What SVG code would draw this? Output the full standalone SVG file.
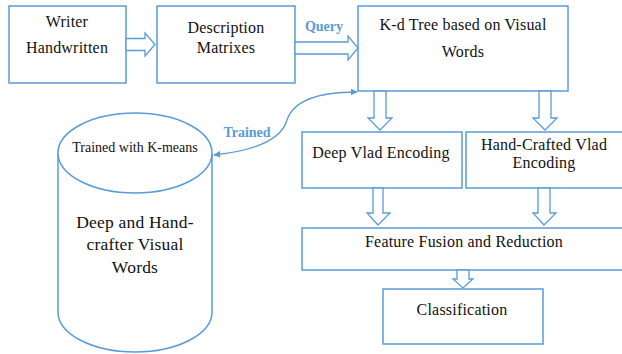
<svg xmlns="http://www.w3.org/2000/svg" width="622" height="354" viewBox="0 0 622 354">
<defs>
<style>
.box{fill:#fff;stroke:#5b9bd5;stroke-width:1.5}
.arr{fill:#fff;stroke:#5b9bd5;stroke-width:1.3;stroke-linejoin:miter}
text{font-family:'Liberation Serif','DejaVu Serif',serif}
.t{font-size:16px;letter-spacing:0.2px;fill:#111;text-anchor:middle}
.lbl{font-size:14px;font-weight:bold;fill:#5b9bd5;text-anchor:middle}
.curve{fill:none;stroke:#5b9bd5;stroke-width:1.3}
</style>
<marker id="ah" viewBox="0 0 10 10" refX="9" refY="5" markerWidth="7" markerHeight="7" orient="auto-start-reverse" markerUnits="userSpaceOnUse">
<path d="M0,0 L10,5 L0,10 z" fill="#5b9bd5"/>
</marker>
</defs>
<rect width="622" height="354" fill="#fff"/>
<g font-family="Liberation Serif, serif">
<g id="writer">
<rect class="box" x="9" y="6" width="117" height="77"/>
<text class="t" x="67" y="27">Writer</text>
<text class="t" x="67" y="53">Handwritten</text>
</g>
<g id="description">
<rect class="box" x="157" y="6" width="138" height="77"/>
<text class="t" x="226" y="33">Description</text>
<text class="t" x="226" y="53">Matrixes</text>
</g>
<g id="kdtree">
<rect class="box" x="358" y="6" width="210" height="85"/>
<text class="t" x="463" y="30">K-d Tree based on Visual</text>
<text class="t" x="463" y="57">Words</text>
</g>
<g id="cylinder">
<path class="box" d="M58,153 L58,312 A77,40 0 0 0 212,312 L212,153"/>
<ellipse class="box" cx="135" cy="153" rx="77" ry="40"/>
<text class="t" x="135" y="152" style="font-size:14px;letter-spacing:0">Trained with K-means</text>
<text class="t" x="135" y="228" style="font-size:17.5px">Deep and Hand-</text>
<text class="t" x="135" y="250" style="font-size:17.5px">crafter Visual</text>
<text class="t" x="135" y="273" style="font-size:17.5px">Words</text>
</g>
<g id="deepvlad">
<rect class="box" x="302" y="132" width="160" height="56"/>
<text class="t" x="381" y="158">Deep Vlad Encoding</text>
</g>
<g id="handvlad">
<rect class="box" x="466" y="132" width="166" height="56"/>
<text class="t" x="544" y="150">Hand-Crafted Vlad</text>
<text class="t" x="544" y="168">Encoding</text>
</g>
<g id="fusion">
<rect class="box" x="302" y="228" width="330" height="42"/>
<text class="t" x="464" y="247">Feature Fusion and Reduction</text>
</g>
<g id="classification">
<rect class="box" x="383" y="289" width="160" height="55"/>
<text class="t" x="462" y="315">Classification</text>
</g>

<g id="connectors">
<polygon class="arr" points="126,38.5 145,38.5 145,33 155,44.5 145,56 145,50.5 126,50.5"/>
<polygon class="arr" points="295,42 348,42 348,36 358,48 348,60 348,54 295,54"/>
<text class="lbl" x="324" y="31">Query</text>
<polygon class="arr" points="374,91 374,118 368,118 380,130 392,118 386,118 386,91"/>
<polygon class="arr" points="539,91 539,118 533,118 545,130 557,118 551,118 551,91"/>
<polygon class="arr" points="373,188 373,213 367,213 378,225 390,213 383,213 383,188"/>
<polygon class="arr" points="538,188 538,213 533,213 544,225 556,213 550,213 550,188"/>
<polygon class="arr" points="457,270 457,279 453,279 463,288 473,279 469,279 469,270"/>
<path class="curve" d="M357,92 C310,92 292,105 287,120 C282,138 260,150 214,155" marker-start="url(#ah)" marker-end="url(#ah)"/>
<text class="lbl" x="247" y="137">Trained</text>
</g>
</g>
</svg>
